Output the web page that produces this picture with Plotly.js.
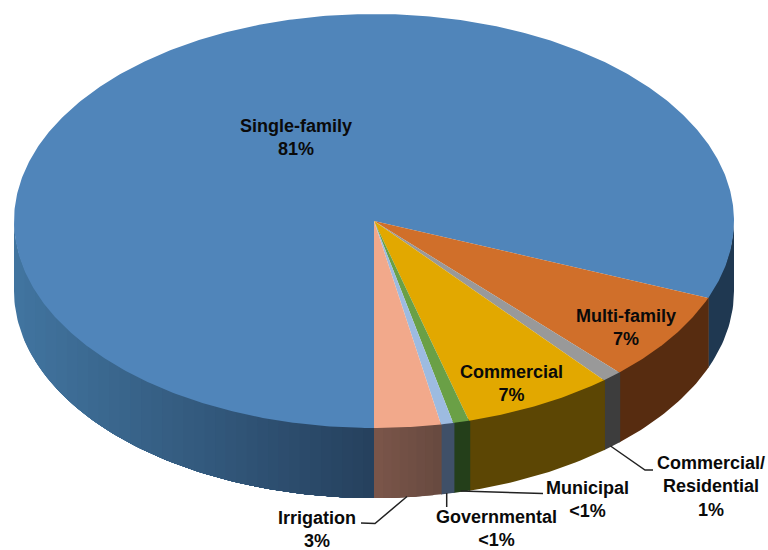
<!DOCTYPE html>
<html>
<head>
<meta charset="utf-8">
<script src="https://cdn.plot.ly/plotly-3.0.1.min.js"></script>
<style>html,body{margin:0;padding:0;background:#fff}#chart{width:768px;height:550px}</style>
</head>
<body>
<div id="chart"></div>
<script>
// Categories and shares (percent), walking round the pie from 6 o'clock
const categories = ["Irrigation", "Governmental", "Municipal", "Commercial", "Commercial/Residential", "Multi-family", "Single-family"];
const shares = [2.98, 0.55, 0.72, 6.78, 0.90, 7.01, 81.06];
const displayLabels = ["Irrigation<br>3%", "Governmental<br><1%", "Municipal<br><1%", "Commercial<br>7%", "Commercial/<br>Residential<br>1%", "Multi-family<br>7%", "Single-family<br>81%"];

// Styles
const topColors = ["#f2a98b", "#9dbbe0", "#6aa046", "#e2a800", "#999999", "#d06f2a", "#5085ba"];
const wallColors = ["#7a5549", "#3f5068", "#243f1a", "#5c4604", "#3d3d3d", "#572c10", "#1f3851"];
const irrigationWallEnd = "#684a40";
const leftWallColor = "#41749f", frontWallColor = "#26415e";

// Geometry of the tilted pie, in page pixels
const cx = 374, cy = 221, rx = 360, ry = 207, depth = 70;
const labelX = [317, 496, 587, 511, 711, 626, 296];
const labelY = [529, 528, 499, 383, 486, 327, 137];

const rad = d => d * Math.PI / 180;
const px = a => cx + rx * Math.sin(rad(a));
const py = (a, drop) => cy + ry * Math.cos(rad(a)) + drop;
const hex = c => [1, 3, 5].map(i => parseInt(c.substr(i, 2), 16));
const mix = (a, b, t) => {
  const A = hex(a), B = hex(b);
  return "rgb(" + A.map((v, i) => Math.round(v + (B[i] - v) * t)).join(",") + ")";
};
const poly = (x, y, color) => ({
  type: "scatter", mode: "lines", x, y, fill: "toself", fillcolor: color,
  line: {color: color, width: 0}, hoverinfo: "skip", showlegend: false
});
// Band of the side wall between two angles
const wallBand = (u, v, color) => {
  const n = Math.max(1, Math.ceil(v - u));
  const xs = [], ys = [];
  for (let k = 0; k <= n; k++) { const a = u + (v - u) * k / n; xs.push(px(a)); ys.push(py(a, -2)); }
  for (let k = n; k >= 0; k--) { const a = u + (v - u) * k / n; xs.push(px(a)); ys.push(py(a, depth)); }
  xs.push(xs[0]); ys.push(ys[0]);
  return poly(xs, ys, color);
};

const traces = [];
const edges = [0];
shares.forEach(s => edges.push(edges[edges.length - 1] + s * 3.6));

// Left half of the Single-family wall: stepped shading, each band painted over the last
const leftBands = 34;
for (let k = 0; k < leftBands; k++) {
  const x0 = px(270) + (cx - px(270)) * k / leftBands;
  const u = 360 + Math.asin((x0 - cx) / rx) * 180 / Math.PI;
  traces.push(wallBand(u, 360.2, mix(leftWallColor, frontWallColor, k / (leftBands - 1))));
}
// Right-hand walls, painted from the far side toward 6 o'clock so each overlaps its neighbour
traces.push(wallBand(edges[6], 90, wallColors[6]));
[5, 4, 3, 2, 1].forEach(i => traces.push(wallBand(edges[i], edges[i + 1] + 0.2, wallColors[i])));
const irrigationBands = 8;
for (let k = irrigationBands - 1; k >= 0; k--) {
  traces.push(wallBand(edges[0], edges[0] + (edges[1] - edges[0]) * (k + 1) / irrigationBands + 0.1,
    mix(wallColors[0], irrigationWallEnd, k / (irrigationBands - 1))));
}

// Top face: biggest slice first
[6, 5, 4, 3, 2, 1, 0].forEach(i => {
  const a0 = edges[i], a1 = edges[i + 1], n = Math.ceil(a1 - a0) * 2;
  const xs = [cx], ys = [cy];
  for (let k = 0; k <= n; k++) {
    const a = a0 + (a1 - a0) * k / n;
    xs.push(px(a)); ys.push(py(a, 0));
  }
  xs.push(cx); ys.push(cy);
  traces.push(poly(xs, ys, topColors[i]));
});

const annotations = displayLabels.map((t, i) => ({
  x: labelX[i], y: labelY[i], xref: "x", yref: "y", text: t, showarrow: false,
  align: "center", xanchor: "center", yanchor: "middle",
  font: {family: "Liberation Sans, Arial, sans-serif", size: 18, color: "#0a0a0a", weight: 700}
}));

const leader = d => ({type: "path", xref: "x", yref: "y", path: d, line: {color: "#222222", width: 1.5}});
const shapes = [
  leader("M407,496.5 L375,523.5 L361,523"),
  leader("M446.7,493 L446.7,507"),
  leader("M460.5,491 L543,493.5"),
  leader("M610.5,446 L645,470 L653,470")
];

const layout = {
  width: 768, height: 550,
  margin: {l: 0, r: 0, t: 0, b: 0},
  paper_bgcolor: "#ffffff", plot_bgcolor: "#ffffff",
  xaxis: {range: [0, 768], visible: false, fixedrange: true},
  yaxis: {range: [550, 0], visible: false, fixedrange: true},
  showlegend: false, hovermode: false,
  annotations, shapes
};
Plotly.newPlot("chart", traces, layout, {displayModeBar: false, staticPlot: true});
</script>
</body>
</html>
